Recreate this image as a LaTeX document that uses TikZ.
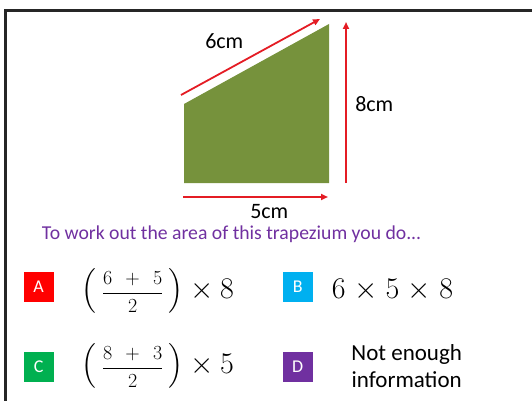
\RequirePackage{fix-cm}
\documentclass[tikz,border=0pt]{standalone}
\usepackage{amsmath}
\usepackage{fontspec}
\setmainfont{Carlito}
\usepackage{xcolor}
\definecolor{cOlive}{RGB}{118,146,60}
\definecolor{cRed}{RGB}{228,28,36}
\definecolor{cBoxRed}{RGB}{255,0,0}
\definecolor{cBoxBlue}{RGB}{0,176,240}
\definecolor{cBoxGreen}{RGB}{0,176,80}
\definecolor{cPurple}{RGB}{112,48,160}
\definecolor{cFrame}{RGB}{38,38,38}
\usepackage{tikz}
\usetikzlibrary{arrows.meta, positioning}

\begin{document}
\begin{tikzpicture}[x=1pt, y=-1pt, line width=0.5pt,
    ar/.style={cRed, line width=1.8pt, -{Triangle[length=7pt,width=6pt]}},
    lbl/.style={anchor=base west, inner sep=0pt, font=\fontsize{22}{26}\selectfont},
    letterbox/.style={minimum width=30pt, minimum height=30pt, inner sep=0pt, text=white, font=\fontsize{18}{20}\selectfont},
    ans/.style={anchor=base west, inner sep=0pt, font=\fontsize{30}{34}\selectfont}]
    \def\Fsz{\fontsize{20}{24}\selectfont}  % size of the small fractions

    \useasboundingbox (0,0) rectangle (532,401);

    % ---------- frame ----------
    \draw[cFrame, line width=3pt] (5,401) -- (5,10.5) -- (532,10.5);

    % ---------- trapezium ----------
    \coordinate (bl) at (184,183);
    \coordinate (br) at (329,183);
    \coordinate (tr) at (329,24);
    \coordinate (tl) at (184,104);
    \fill[cOlive] (bl) -- (br) -- (tr) -- (tl) -- cycle;

    % ---------- measure arrows ----------
    \coordinate (slantA) at (181,95);
    \coordinate (slantB) at (320,19);
    \coordinate (vertA) at (346,183);
    \coordinate (vertB) at (346,22);
    \coordinate (baseA) at (183,197);
    \coordinate (baseB) at (328,197);
    \draw[ar] (slantA) -- (slantB);
    \draw[ar] (vertA) -- (vertB);
    \draw[ar] (baseA) -- (baseB);

    \node[lbl] (six) at (205,48.3) {6cm};
    \node[lbl] (eight) at (355,111.7) {8cm};
    \node[lbl] (five) at (250,218.3) {5cm};

    % ---------- question ----------
    \node[anchor=base west, inner sep=0pt, text=cPurple, font=\fontsize{19.7}{23}\selectfont]
      (question) at (41.7,239) {To work out the area of this trapezium you do...};

    % ---------- answers ----------
    \node[letterbox, fill=cBoxRed] (optA) at (38.7,287) {A};
    \node[letterbox, fill=cBoxBlue] (optB) at (297.7,287) {B};
    \node[letterbox, fill=cBoxGreen] (optC) at (38.7,367) {C};
    \node[letterbox, fill=cPurple] (optD) at (297.7,367) {D};

    \node[ans] (ansA) at (81.7,298.3)
      {$\big(\,\text{\Fsz$\dfrac{6\mkern8mu+\mkern8mu5}{2}$}\,\big)\times 8$};
    \node[ans] (ansB) at (331.7,298.3) {$6\mkern1mu\times\mkern1mu5\mkern1mu\times\mkern1mu8$};
    \node[ans] (ansC) at (81.7,373.3)
      {$\big(\,\text{\Fsz$\dfrac{8\mkern8mu+\mkern8mu3}{2}$}\,\big)\times 5$};
    \node[anchor=base, inner sep=0pt, align=center, font=\fontsize{23}{27.7}\selectfont]
      (ansD) at (406.7,387.7) {Not enough\\information};

\end{tikzpicture}
\end{document}
